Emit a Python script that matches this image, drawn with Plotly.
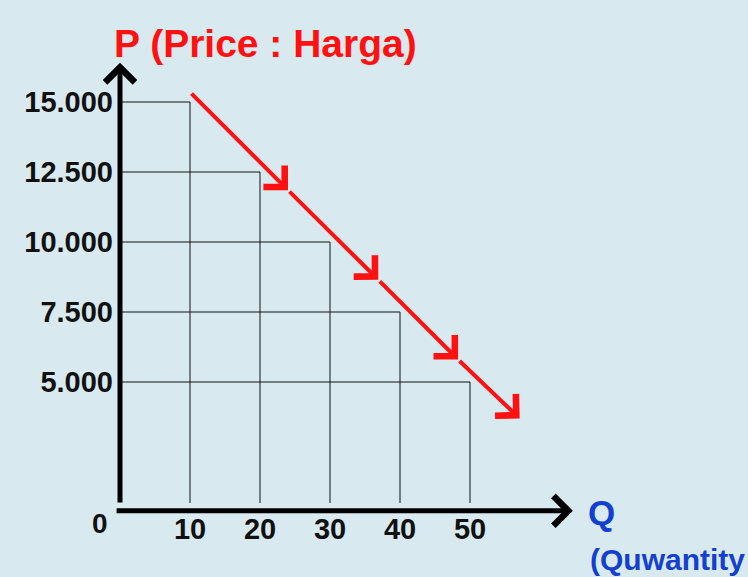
import plotly.graph_objects as go

# --- DATA ---
Q = [10, 20, 30, 40, 50]
P = [15000, 12500, 10000, 7500, 5000]
Q_LABELS = ["10", "20", "30", "40", "50"]
P_LABELS = ["15.000", "12.500", "10.000", "7.500", "5.000"]

# garis permintaan (panah merah)
ARROW_Q = [10, 24, 36.9, 48.3, 57.1]
ARROW_P = [15350, 11850, 8650, 5800, 3700]

# --- KONFIGURASI ---
W, H = 748, 577
M_LEFT, M_BOTTOM = 120, 66
X_RANGE = [0, (W - M_LEFT) / 7]
Y_RANGE = [393, 18643]
GRID_BOTTOM = 680
AXIS_P = 400
Y_AXIS_TOP = 16400
X_AXIS_START, X_AXIS_END = -0.7, 64.7

BG = "#d8eaef"
FONT = "Liberation Sans, Arial, sans-serif"
RED = "#ff1111"
BLUE = "#1340d0"


def px_to_paper(px, py):
    # posisi teks bebas (judul, label) dalam koordinat paper
    return (px - M_LEFT) / (W - M_LEFT), 1 - py / (H - M_BOTTOM)


fig = go.Figure()

# kotak-kotak grid dari titik harga/kuantitas
gx, gy = [], []
for q, p in zip(Q, P):
    gx += [0, q, q, None]
    gy += [p, p, GRID_BOTTOM, None]
fig.add_trace(go.Scatter(x=gx, y=gy, mode="lines",
                         line=dict(color="#111111", width=1),
                         hoverinfo="skip", showlegend=False))

annotations = []

# sumbu dengan panah
annotations.append(dict(x=0, y=Y_AXIS_TOP, ax=0, ay=AXIS_P + 240,
                        xref="x", yref="y", axref="x", ayref="y",
                        showarrow=True, arrowhead=4, arrowsize=1.15,
                        arrowwidth=5, arrowcolor="#000000", text=""))
annotations.append(dict(x=X_AXIS_END, y=AXIS_P, ax=X_AXIS_START, ay=AXIS_P,
                        xref="x", yref="y", axref="x", ayref="y",
                        showarrow=True, arrowhead=4, arrowsize=1.15,
                        arrowwidth=5, arrowcolor="#000000", text=""))

# panah merah bertingkat
for i in range(1, len(ARROW_Q)):
    annotations.append(dict(x=ARROW_Q[i], y=ARROW_P[i],
                            ax=ARROW_Q[i - 1], ay=ARROW_P[i - 1],
                            xref="x", yref="y", axref="x", ayref="y",
                            showarrow=True, arrowhead=4, arrowsize=1.45,
                            arrowwidth=4, arrowcolor=RED, text=""))

# teks
texts = [
    ("P (Price : Harga)", 265, 43, 39, RED, "center"),
    ("Q", 601, 512, 35, BLUE, "center"),
    ("(Quwantity", 588, 559, 30, BLUE, "left"),
    ("0", 100, 523, 28, "#111111", "center"),
]
for t, px, py, size, color, anchor in texts:
    x, y = px_to_paper(px, py)
    annotations.append(dict(x=x, y=y, xref="paper", yref="paper", text=t,
                            showarrow=False, xanchor=anchor, yanchor="middle",
                            font=dict(family=FONT, size=size, color=color,
                                      weight="bold")))

fig.update_layout(
    width=W, height=H,
    margin=dict(l=M_LEFT, r=0, t=0, b=M_BOTTOM),
    paper_bgcolor=BG, plot_bgcolor=BG,
    showlegend=False,
    annotations=annotations,
)
fig.update_xaxes(range=X_RANGE, showgrid=False, zeroline=False, showline=False,
                 tickvals=Q, ticktext=Q_LABELS, ticks="", ticklabelstandoff=-2,
                 tickfont=dict(family=FONT, size=29, color="#111111", weight="bold"))
fig.update_yaxes(range=Y_RANGE, showgrid=False, zeroline=False, showline=False,
                 tickvals=P, ticktext=P_LABELS, ticks="", ticklabelstandoff=6,
                 tickfont=dict(family=FONT, size=29, color="#111111", weight="bold"))

# halaman tanpa margin supaya gambar mulai dari pojok kiri atas
fig.write_html("out.html", config={"displayModeBar": False},
               post_script="document.body.style.margin='0';")
